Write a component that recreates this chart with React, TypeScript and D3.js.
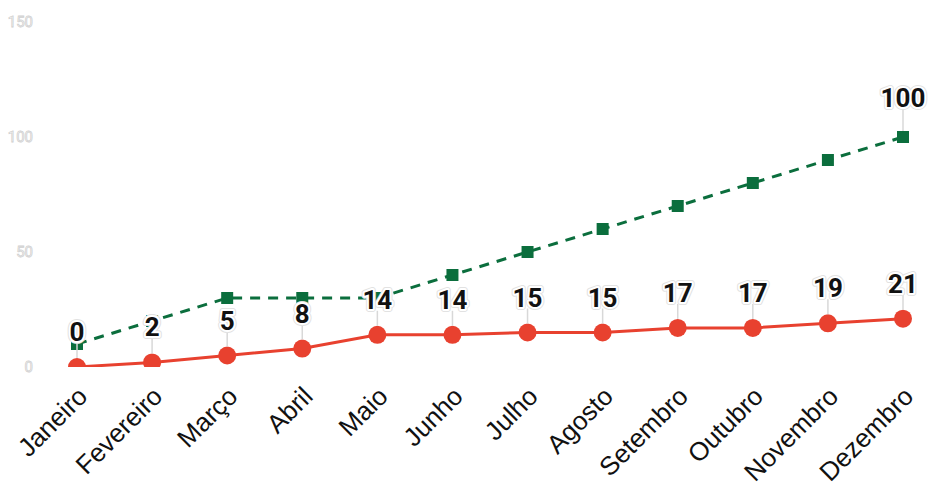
import React from "react";
import * as d3 from "d3";

const months = ["Janeiro","Fevereiro","Março","Abril","Maio","Junho","Julho","Agosto","Setembro","Outubro","Novembro","Dezembro"];
const redValues = [0,2,5,8,14,14,15,15,17,17,19,21];
const greenValues = [10,20,30,30,30,40,50,60,70,80,90,100];
const yTicks = [0,50,100,150];

const W = 928, H = 484;

function Label({ x, y, text }: { x: number; y: number; text: string | number }) {
  const common = { x, y, textAnchor: "middle" as const, fontFamily: "Roboto", fontWeight: "bold", fontSize: 26, strokeLinejoin: "round" as const };
  return (
    <g>
      <text {...common} fill="#fff" stroke="#e2e2e2" strokeWidth={6}>{text}</text>
      <text {...common} fill="#111" stroke="#fff" strokeWidth={4} style={{ paintOrder: "stroke" }}>{text}</text>
    </g>
  );
}

export default function App() {
  const x = d3.scalePoint<string>().domain(months).range([77, 903]);
  const y = d3.scaleLinear().domain([0, 150]).range([367, 22]);
  const lineR = d3.line<number>().x((_, i) => x(months[i])!).y(d => y(d));
  const red = "#e8412f";
  const green = "#0b6e3d";
  const labelOffset = 26;
  return (
    <svg width={W} height={H} style={{ position: "absolute", left: 0, top: 0, background: "#fff" }}>
      <defs>
        <clipPath id="plot"><rect x={0} y={0} width={W} height={367} /></clipPath>
      </defs>
      {yTicks.map(t => (
        <text key={t} x={33} y={y(t)} dy="0.35em" textAnchor="end" fontFamily="Roboto" fontSize={15}
          fill="#fff" stroke="#cfcfcf" strokeWidth={0.8}>{t}</text>
      ))}
      <g clipPath="url(#plot)">
        <path d={lineR(greenValues)!} fill="none" stroke={green} strokeWidth={3} strokeDasharray="10,8" />
        {greenValues.map((v, i) => (
          <rect key={i} x={x(months[i])! - 6} y={y(v) - 6} width={12} height={12} fill={green} />
        ))}
        <path d={lineR(redValues)!} fill="none" stroke={red} strokeWidth={3} />
        {redValues.map((v, i) => (
          <circle key={i} cx={x(months[i])!} cy={y(v)} r={9} fill={red} />
        ))}
      </g>
      {redValues.map((v, i) => (
        <line key={"lr" + i} x1={x(months[i])!} x2={x(months[i])!} y1={y(v) - 9} y2={y(v) - labelOffset + 2} stroke="#d8d8d8" strokeWidth={1.5} />
      ))}
      <line x1={x(months[11])!} x2={x(months[11])!} y1={y(greenValues[11]) - 6} y2={y(greenValues[11]) - 28} stroke="#d8d8d8" strokeWidth={1.5} />
      {redValues.map((v, i) => (
        <Label key={"tr" + i} x={x(months[i])!} y={y(v) - labelOffset} text={v} />
      ))}
      <Label x={x(months[11])!} y={y(greenValues[11]) - 30} text={greenValues[11]} />
      {months.map(m => (
        <text key={m} transform={`translate(${x(m)! + 12},${398}) rotate(-45)`} textAnchor="end" fontFamily="Liberation Sans, Arial" fontSize={26} fill="#111">{m}</text>
      ))}
    </svg>
  );
}
